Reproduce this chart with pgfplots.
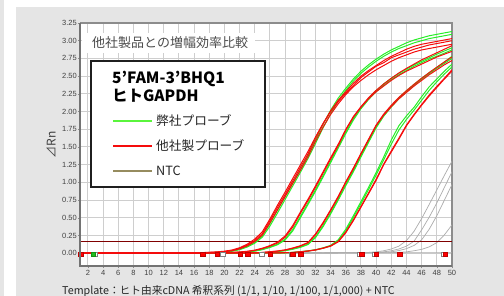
\documentclass[border=0pt]{standalone}
\usepackage{fontspec}
\setmainfont{Liberation Sans}
\newfontfamily\jp{Noto Sans CJK JP}
\usepackage{pgfplots}
\pgfplotsset{compat=1.18}
\usepackage{pgfplotstable}
\definecolor{panelgray}{RGB}{229,229,229}
\definecolor{gridgray}{RGB}{206,206,206}
\definecolor{axgray}{RGB}{140,140,140}
\definecolor{cgreen}{RGB}{40,238,40}
\definecolor{lgreen}{RGB}{90,245,60}
\definecolor{cred}{RGB}{245,12,12}
\definecolor{ntcgray}{RGB}{172,172,172}
\definecolor{ntcleg}{RGB}{150,140,95}
\definecolor{thr}{RGB}{128,0,0}

\pgfplotstableread{
c g1 g2 r1 r2 r3
1 0 0.005 0.005 0 0.01
5 0.002 0 0.004 0.003 0.006
10 0 0.003 0.006 0.002 0.004
14 0.002 0.003 0.004 0.005 0.003
16 0.003 0.003 0.006 0.007 0.005
17 0.005 0.004 0.008 0.009 0.007
18 0.008 0.007 0.011 0.013 0.010
19 0.012 0.011 0.016 0.019 0.014
20 0.019 0.017 0.025 0.029 0.022
21 0.032 0.028 0.040 0.046 0.036
22 0.057 0.050 0.070 0.078 0.062
23 0.097 0.088 0.115 0.128 0.104
24 0.155 0.142 0.180 0.200 0.165
25 0.250 0.228 0.280 0.305 0.258
26 0.420 0.385 0.460 0.485 0.430
27 0.610 0.570 0.650 0.680 0.615
28 0.800 0.760 0.830 0.865 0.800
29 0.990 0.950 1.020 1.055 0.985
30 1.180 1.140 1.210 1.245 1.170
31 1.380 1.335 1.400 1.435 1.360
32 1.600 1.550 1.630 1.640 1.580
33 1.820 1.770 1.830 1.830 1.780
34 2.020 1.970 2.010 2.000 1.960
35 2.190 2.150 2.160 2.140 2.110
36 2.330 2.300 2.280 2.260 2.240
37 2.460 2.430 2.400 2.370 2.350
38 2.570 2.540 2.500 2.480 2.440
39 2.660 2.630 2.580 2.560 2.520
40 2.740 2.710 2.650 2.640 2.590
41 2.810 2.780 2.720 2.690 2.650
42 2.870 2.840 2.780 2.760 2.710
43 2.920 2.890 2.830 2.800 2.760
44 2.970 2.930 2.880 2.840 2.800
45 3.010 2.970 2.920 2.880 2.840
46 3.040 3.000 2.950 2.910 2.870
47 3.070 3.030 2.970 2.940 2.890
48 3.090 3.050 2.990 2.960 2.910
49 3.110 3.070 3.010 2.980 2.930
50 3.130 3.090 3.030 3.000 2.950
}\gone

\pgfplotstableread{
c g1 g2 r1 r2
1 0.003 0 0.005 0.002
5 0 0.004 0.002 0.005
10 0.004 0.002 0.004 0.003
15 0.003 0.004 0.005 0.004
18 0.004 0.003 0.006 0.005
20 0.005 0.005 0.008 0.009
21 0.008 0.007 0.011 0.012
22 0.012 0.011 0.016 0.018
23 0.020 0.018 0.025 0.028
24 0.033 0.030 0.040 0.044
25 0.055 0.050 0.065 0.071
26 0.088 0.082 0.100 0.108
27 0.128 0.120 0.145 0.157
28 0.200 0.188 0.225 0.245
29 0.335 0.315 0.370 0.392
30 0.520 0.500 0.560 0.580
31 0.705 0.685 0.740 0.760
32 0.895 0.875 0.930 0.950
33 1.095 1.075 1.130 1.150
34 1.300 1.280 1.330 1.350
35 1.505 1.485 1.520 1.540
36 1.710 1.690 1.740 1.750
37 1.900 1.880 1.920 1.930
38 2.055 2.040 2.060 2.070
39 2.185 2.170 2.180 2.195
40 2.295 2.280 2.280 2.300
41 2.390 2.370 2.360 2.390
42 2.470 2.450 2.440 2.470
43 2.540 2.520 2.510 2.545
44 2.600 2.580 2.570 2.610
45 2.660 2.640 2.620 2.670
46 2.710 2.690 2.670 2.730
47 2.760 2.740 2.720 2.780
48 2.810 2.780 2.770 2.830
49 2.855 2.825 2.810 2.880
50 2.900 2.870 2.850 2.930
}\gtwo

\pgfplotstableread{
c g1 g2 r1 r2
1 0.004 0.001 0.003 0.005
5 0.002 0.003 0.005 0.002
10 0.003 0.004 0.002 0.004
15 0.002 0.003 0.004 0.005
20 0.004 0.003 0.005 0.004
22 0.004 0.004 0.005 0.006
24 0.005 0.004 0.006 0.007
25 0.008 0.007 0.010 0.011
26 0.016 0.015 0.020 0.021
27 0.025 0.023 0.030 0.032
28 0.038 0.036 0.045 0.048
29 0.060 0.056 0.070 0.074
30 0.088 0.083 0.100 0.106
31 0.128 0.122 0.145 0.152
32 0.230 0.220 0.260 0.272
33 0.390 0.375 0.420 0.435
34 0.570 0.555 0.600 0.615
35 0.765 0.750 0.790 0.805
36 0.970 0.955 1.000 1.010
37 1.170 1.150 1.190 1.205
38 1.380 1.360 1.400 1.410
39 1.585 1.565 1.600 1.610
40 1.790 1.770 1.800 1.810
41 1.950 1.935 1.950 1.965
42 2.080 2.065 2.070 2.090
43 2.195 2.180 2.180 2.200
44 2.295 2.280 2.270 2.295
45 2.385 2.370 2.360 2.385
46 2.470 2.455 2.440 2.470
47 2.550 2.535 2.520 2.550
48 2.625 2.610 2.590 2.625
49 2.700 2.680 2.660 2.700
50 2.780 2.750 2.720 2.770
}\gthree

\pgfplotstableread{
c g1 g2 r1 r2
1 0.003 0.004 0.002 0.005
5 0.004 0.002 0.005 0.003
10 0.002 0.004 0.003 0.004
15 0.004 0.003 0.005 0.002
20 0.003 0.004 0.004 0.005
25 0.004 0.005 0.005 0.004
27 0.005 0.005 0.006 0.006
28 0.007 0.006 0.007 0.008
29 0.012 0.011 0.010 0.011
30 0.022 0.020 0.020 0.021
31 0.033 0.031 0.030 0.032
32 0.050 0.047 0.045 0.048
33 0.076 0.071 0.070 0.073
34 0.112 0.104 0.100 0.105
35 0.190 0.175 0.160 0.168
36 0.340 0.318 0.290 0.300
37 0.530 0.505 0.460 0.472
38 0.730 0.700 0.650 0.662
39 0.930 0.900 0.840 0.852
40 1.140 1.105 1.030 1.045
41 1.360 1.320 1.250 1.260
42 1.600 1.540 1.430 1.445
43 1.800 1.740 1.610 1.625
44 1.940 1.890 1.800 1.810
45 2.060 2.020 1.950 1.960
46 2.210 2.160 2.090 2.100
47 2.350 2.300 2.220 2.235
48 2.460 2.420 2.340 2.355
49 2.570 2.530 2.460 2.470
50 2.670 2.630 2.570 2.590
}\gfour

\pgfplotstableread{
c a b cc d e
1 0.004 0.002 0.005 0.003 0.004
10 0.005 0.004 0.003 0.005 0.003
20 0.006 0.005 0.004 0.003 0.006
30 0.005 0.006 0.005 0.004 0.004
36 0.006 0.005 0.006 0.005 0.005
38 0.008 0.006 0.006 0.005 0.006
39 0.012 0.008 0.007 0.006 0.005
40 0.020 0.012 0.009 0.006 0.006
41 0.035 0.020 0.012 0.007 0.005
42 0.060 0.035 0.020 0.008 0.006
43 0.100 0.060 0.038 0.012 0.007
44 0.180 0.100 0.065 0.020 0.006
45 0.310 0.170 0.110 0.035 0.007
46 0.490 0.330 0.190 0.055 0.006
47 0.690 0.510 0.340 0.090 0.008
48 0.895 0.710 0.530 0.150 0.007
49 1.100 0.930 0.750 0.260 0.009
50 1.300 1.150 0.970 0.400 0.008
}\ntc

\begin{document}
\begin{tikzpicture}[x=1pt,y=1pt]
\useasboundingbox (0,0) rectangle (504,296);
\fill[white] (0,0) rectangle (504,296);
\fill[panelgray] (0,0) rectangle (4,296);
\fill[panelgray] (16,0) rectangle (504,289);
\begin{axis}[name=ax,
  at={(80.4pt,30pt)}, anchor=south west,
  width=371.6pt, height=243pt, scale only axis,
  xmin=1, xmax=50, ymin=-0.18, ymax=3.25,
  xtick={2,4,...,50},
  ytick={0,0.25,0.5,0.75,1,1.25,1.5,1.75,2,2.25,2.5,2.75,3,3.25},
  axis background/.style={fill=white},
  grid=major, grid style={gridgray, line width=1pt},
  axis line style={axgray, line width=1.2pt},
  tick style={axgray, line width=0.6pt},
  major tick length=2.5pt, tick align=outside, tick pos=left,
  /pgf/number format/assume math mode=true,
  ticklabel style={font=\fontsize{7.5}{8}\selectfont, text=black!75},
  yticklabel style={/pgf/number format/fixed, /pgf/number format/fixed zerofill, /pgf/number format/precision=2, inner sep=1pt},
  xticklabel style={inner sep=1.5pt},
]
% NTC
\addplot[ntcgray, line width=0.7pt] table[x=c, y=e] {\ntc};
\addplot[ntcgray, line width=0.7pt] table[x=c, y=d] {\ntc};
\addplot[ntcgray, line width=0.7pt] table[x=c, y=cc] {\ntc};
\addplot[ntcgray, line width=0.7pt] table[x=c, y=b] {\ntc};
\addplot[ntcgray, line width=0.7pt] table[x=c, y=a] {\ntc};
% threshold
\addplot[thr, line width=1pt] coordinates {(1,0.165) (50,0.165)};
% green
\addplot[cgreen, line width=1pt] table[x=c, y=g1] {\gone};
\addplot[cgreen, line width=1pt] table[x=c, y=g2] {\gone};
\addplot[cgreen, line width=1pt] table[x=c, y=g1] {\gtwo};
\addplot[cgreen, line width=1pt] table[x=c, y=g2] {\gtwo};
\addplot[cgreen, line width=1pt] table[x=c, y=g1] {\gthree};
\addplot[cgreen, line width=1pt] table[x=c, y=g2] {\gthree};
\addplot[cgreen, line width=1pt] table[x=c, y=g1] {\gfour};
\addplot[cgreen, line width=1pt] table[x=c, y=g2] {\gfour};
% red
\addplot[cred, line width=1pt] table[x=c, y=r1] {\gone};
\addplot[cred, line width=1pt] table[x=c, y=r2] {\gone};
\addplot[cred, line width=1pt] table[x=c, y=r3] {\gone};
\addplot[cred, line width=1pt] table[x=c, y=r1] {\gtwo};
\addplot[cred, line width=1pt] table[x=c, y=r2] {\gtwo};
\addplot[cred, line width=1pt] table[x=c, y=r1] {\gthree};
\addplot[cred, line width=1pt] table[x=c, y=r2] {\gthree};
\addplot[cred, line width=1pt] table[x=c, y=r1] {\gfour};
\addplot[cred, line width=1pt] table[x=c, y=r2] {\gfour};
% baseline markers
\addplot[only marks, mark=square*, mark size=2.2pt, mark options={fill=white, draw=gray, line width=0.6pt}]
  coordinates {(3.0,-0.015) (19.8,-0.015) (24.9,-0.015) (28.8,-0.015) (37.8,-0.015) (39.8,-0.015) (48.9,-0.015)};
\addplot[only marks, mark=square*, mark size=2.2pt, mark options={fill=cgreen!80!black, draw=cgreen!60!black, line width=0.3pt}]
  coordinates {(2.7,-0.015)};
\addplot[only marks, mark=square*, mark size=2.3pt, mark options={fill=red, draw=red!75!black, line width=0.3pt}]
  coordinates {(1.0,-0.015) (17.1,-0.015) (19.05,-0.015) (22.05,-0.015) (23.06,-0.015) (26.0,-0.015) (29.0,-0.015) (30.05,-0.015) (38.1,-0.015) (40.0,-0.015) (43.06,-0.015) (49.1,-0.015)};
\end{axis}
\draw[black!55, line width=2pt] (ax.north west) -- (ax.south west) -- (ax.south east);
% title
\fill[white] (82,243) rectangle (255,263);
\node[anchor=west, text=black!70, inner sep=0pt, font=\jp\fontsize{13}{13}\selectfont] at (92,253) {他社製品との増幅効率比較};
% legend
\draw[black!88, line width=1.5pt, fill=white] (91,109) rectangle (265,235);
\node[anchor=base west, inner sep=0pt, font=\jp\bfseries\fontsize{15.5}{16}\selectfont] at (112,212.7) {5’FAM-3’BHQ1};
\node[anchor=base west, inner sep=0pt, font=\jp\bfseries\fontsize{15.5}{16}\selectfont] at (112,194.5) {ヒトGAPDH};
\draw[lgreen, line width=2pt] (113,175.3) -- (152,175.3);
\draw[cred, line width=2pt] (113,150.3) -- (152,150.3);
\draw[ntcleg, line width=2pt] (113,125) -- (152,125);
\node[anchor=west, inner sep=0pt, text=black!85, font=\jp\fontsize{12.7}{13}\selectfont] at (156,175.3) {弊社プローブ};
\node[anchor=west, inner sep=0pt, text=black!85, font=\jp\fontsize{12.7}{13}\selectfont] at (156,150.3) {他社製プローブ};
\node[anchor=west, inner sep=0pt, text=black!85, font=\jp\fontsize{12.7}{13}\selectfont] at (156,125) {NTC};
% axis labels
\node[rotate=90, text=black!75, font=\jp\fontsize{12}{12}\selectfont] at (51,151) {⊿Rn};
\node[anchor=west, inner sep=0pt, text=black!85, font=\jp\fontsize{10.7}{11}\selectfont] at (62,4.5) {Template：ヒト由来cDNA 希釈系列 (1/1, 1/10, 1/100, 1/1,000) + NTC};
\end{tikzpicture}
\end{document}
